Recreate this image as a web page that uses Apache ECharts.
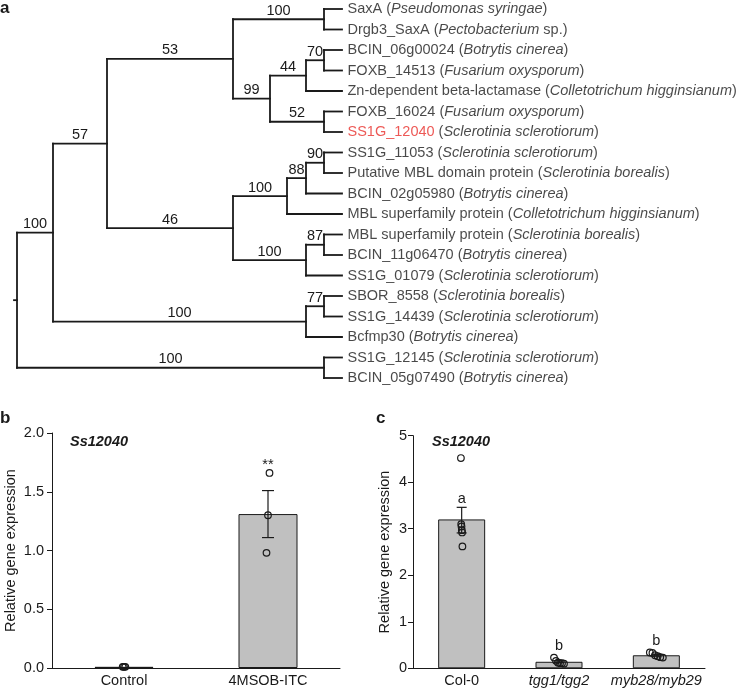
<!DOCTYPE html>
<html><head><meta charset="utf-8">
<script src="https://cdn.jsdelivr.net/npm/echarts@6/dist/echarts.min.js"></script>
<style>html,body{margin:0;padding:0;background:#fff}#c{width:737px;height:690px}</style>
</head><body><div id="c"></div>
<script>
// ---------- Panel a: phylogenetic tree ----------
const leafIds = ['SaxA','Drgb3_SaxA','BCIN_06g00024','FOXB_14513','Zn-dependent beta-lactamase','FOXB_16024','SS1G_12040','SS1G_11053','Putative MBL domain protein','BCIN_02g05980','MBL superfamily protein','MBL superfamily protein','BCIN_11g06470','SS1G_01079','SBOR_8558','SS1G_14439','Bcfmp30','SS1G_12145','BCIN_05g07490'];
const leafSpecies = ['Pseudomonas syringae','Pectobacterium','Botrytis cinerea','Fusarium oxysporum','Colletotrichum higginsianum','Fusarium oxysporum','Sclerotinia sclerotiorum','Sclerotinia sclerotiorum','Sclerotinia borealis','Botrytis cinerea','Colletotrichum higginsianum','Sclerotinia borealis','Botrytis cinerea','Sclerotinia sclerotiorum','Sclerotinia borealis','Sclerotinia sclerotiorum','Botrytis cinerea','Sclerotinia sclerotiorum','Botrytis cinerea'];
const leafSpeciesNote = ['',' sp.','','','','','','','','','','','','','','','','',''];
const highlightLeaf = 'SS1G_12040';
// nodes 0..18 are leaves, 19..36 internal nodes
const nodeParent = [23,23,26,26,25,27,27,31,31,30,29,33,33,32,35,35,34,36,36,
                    -1,19,20,21,22,22,24,25,24,21,28,29,30,28,32,20,34,19];
const nodeDepth  = [325,325,325,325,325,325,325,325,325,325,325,325,325,325,325,325,325,325,325,
                    0,36,90,216,307,253,289,307,307,216,270,289,307,289,307,289,307,307];
const nodeSupport= [null,null,null,null,null,null,null,null,null,null,null,null,null,null,null,null,null,null,null,
                    null,100,57,53,100,99,44,70,52,46,100,88,90,100,87,100,77,100];

// ---------- Panel b ----------
const bCats = ['Control','4MSOB-ITC'];
const bMean = [0.01, 1.31];
const bErrLow = [null, 1.11];
const bErrHigh = [null, 1.51];
const bPoints = [[0.01,0.01,0.01],[1.66,1.30,0.98]];
const bSig = ['', '**'];
const bSigAt = [null, 1.73];

// ---------- Panel c ----------
const cCats = ['Col-0','tgg1/tgg2','myb28/myb29'];
const cMean = [3.20, 0.14, 0.28];
const cErrLow = [2.91, 0.12, 0.26];
const cErrHigh = [3.46, 0.16, 0.30];
const cPoints = [[4.52,3.10,3.05,2.97,2.92,2.62],[0.23,0.16,0.12,0.11,0.11,0.10],[0.34,0.33,0.28,0.26,0.24,0.23]];
const cSig = ['a','b','b'];
const cSigAt = [3.64, 0.48, 0.59];

// ---------- style ----------
const F = '"Liberation Sans", Arial, Helvetica, sans-serif';
const FS = 14.5;
const INK = '#1a1a1a';
const bSpread = [1.3, -1.5];
const cSpread = [0.3, 2.0, 2.6];

// tree geometry derived from data
const nNodes = nodeParent.length;
const children = Array.from({length:nNodes}, () => []);
nodeParent.forEach((p,i) => { if (p >= 0) children[p].push(i); });
const nodeY = new Array(nNodes);
function yOf(i){
  if (nodeY[i] !== undefined) return nodeY[i];
  if (children[i].length === 0) { nodeY[i] = i; return i; }
  const ys = children[i].map(yOf);
  nodeY[i] = (Math.min(...ys) + Math.max(...ys)) / 2;
  return nodeY[i];
}
for (let i = 0; i < nNodes; i++) yOf(i);
const internalIds = [];
for (let i = 0; i < nNodes; i++) if (children[i].length) internalIds.push(i);

const treeLine = {stroke: INK, lineWidth: 1.8, lineCap: 'square'};
function seg(x1,y1,x2,y2){ return {type:'line', shape:{x1,y1,x2,y2}, style: treeLine}; }

function leafLabel(i){
  const id = leafIds[i];
  const head = id === highlightLeaf ? `{r|${id}}` : `{n|${id}}`;
  return `${head}{n| (}{i|${leafSpecies[i]}}{n|${leafSpeciesNote[i]})}`;
}

function errItem(params, api, cap){
  const i = api.value(0);
  const hi = api.coord([i, api.value(2)]);
  const lo = api.coord([i, api.value(1)]);
  const st = {stroke: INK, lineWidth: 1.2};
  return {type:'group', children:[
    {type:'line', shape:{x1:hi[0], y1:hi[1], x2:lo[0], y2:lo[1]}, style:st},
    {type:'line', shape:{x1:hi[0]-cap, y1:hi[1], x2:hi[0]+cap, y2:hi[1]}, style:st},
    {type:'line', shape:{x1:lo[0]-cap, y1:lo[1], x2:lo[0]+cap, y2:lo[1]}, style:st}
  ]};
}
function ptItem(params, api, spread){
  const i = api.value(0), k = api.value(2), n = api.value(3);
  const p = api.coord([i, api.value(1)]);
  const dx = (k - (n-1)/2) * spread[i];
  return {type:'circle', shape:{cx:p[0]+dx, cy:p[1], r:3.3}, style:{fill:'none', stroke:INK, lineWidth:1.2}};
}
function sigItem(params, api, labels){
  const i = api.value(0);
  const p = api.coord([i, api.value(1)]);
  return {type:'text', style:{text:labels[i], x:p[0], y:p[1], align:'center', verticalAlign:'middle', fontSize:FS, fontFamily:F, fill:INK}};
}
const flatPts = arr => arr.flatMap((g,i) => g.map((v,k) => [i, v, k, g.length]));

const chart = echarts.init(document.getElementById('c'), null, {renderer:'canvas'});
const axisLine = {lineStyle:{color:INK, width:1}};
chart.setOption({
  animation: false,
  backgroundColor: '#fff',
  textStyle: {fontFamily: F},
  grid: [
    {left:17, top:9, width:325, height:369},
    {left:52, top:433, width:288, height:235},
    {left:413, top:435.7, width:292, height:232.6}
  ],
  xAxis: [
    {gridIndex:0, type:'value', min:0, max:325, show:false},
    {gridIndex:1, type:'category', data:bCats, axisLine, axisTick:{show:false},
     axisLabel:{color:INK, fontSize:FS, fontFamily:F, margin:5, interval:0}},
    {gridIndex:2, type:'category', data:cCats, axisLine, axisTick:{show:false},
     axisLabel:{color:INK, fontSize:FS, fontFamily:F, margin:5, interval:0, hideOverlap:false,
       formatter: v => v === 'Col-0' ? v : v.split('/').map(s => `{i|${s}}`).join('{i|/}'),
       rich:{i:{fontStyle:'italic', fontSize:FS, fontFamily:F, color:INK}}}}
  ],
  yAxis: [
    {gridIndex:0, type:'value', min:0, max:18, inverse:true, show:false},
    {gridIndex:1, type:'value', min:0, max:2, interval:0.5, axisLine:{show:true, lineStyle:{color:INK}},
     axisTick:{show:true, length:5, lineStyle:{color:INK}}, splitLine:{show:false},
     axisLabel:{color:INK, fontSize:FS, fontFamily:F, margin:8, formatter: v => v.toFixed(1)},
     name:'Relative gene expression', nameLocation:'middle', nameGap:34,
     nameTextStyle:{color:INK, fontSize:FS, fontFamily:F}},
    {gridIndex:2, type:'value', min:0, max:5, interval:1, axisLine:{show:true, lineStyle:{color:INK}},
     axisTick:{show:true, length:5, lineStyle:{color:INK}}, splitLine:{show:false},
     axisLabel:{color:INK, fontSize:FS, fontFamily:F, margin:6},
     name:'Relative gene expression', nameLocation:'middle', nameGap:21,
     nameTextStyle:{color:INK, fontSize:FS, fontFamily:F}}
  ],
  series: [
    {type:'custom', xAxisIndex:0, yAxisIndex:0,
     data: internalIds.map(id => [nodeDepth[id], nodeY[id]]),
     renderItem: (params, api) => {
       const id = internalIds[params.dataIndex];
       const p = api.coord([nodeDepth[id], nodeY[id]]);
       const kids = children[id];
       const kc = kids.map(k => api.coord([nodeDepth[k], nodeY[k]]));
       const ys = kc.map(c => c[1]);
       const els = [seg(p[0], Math.min(...ys), p[0], Math.max(...ys))];
       kc.forEach((c, j) => {
         els.push(seg(p[0], c[1], c[0], c[1]));
         const s = nodeSupport[kids[j]];
         if (s != null) els.push({type:'text', style:{text:String(s), x:(p[0]+c[0])/2, y:c[1]-1,
           align:'center', verticalAlign:'bottom', fontSize:FS, fontFamily:F, fill:INK}});
       });
       if (nodeParent[id] < 0) els.push(seg(p[0]-3, p[1], p[0], p[1]));
       return {type:'group', children: els};
     }},
    {type:'scatter', xAxisIndex:0, yAxisIndex:0, symbolSize:1, itemStyle:{color:'rgba(0,0,0,0)'},
     data: leafIds.map((_, i) => [nodeDepth[i], nodeY[i]]),
     label:{show:true, position:'right', distance:5, formatter: p => leafLabel(p.dataIndex),
       rich:{
         n:{fontSize:FS, fontFamily:F, color:INK},
         i:{fontSize:FS, fontFamily:F, color:INK, fontStyle:'italic'},
         r:{fontSize:FS, fontFamily:F, color:'#e8302c'}
       }}},
    // panel b
    {type:'bar', xAxisIndex:1, yAxisIndex:1, data:bMean, barWidth:59,
     itemStyle:{color:'#c0c0c0', borderColor:INK, borderWidth:1}},
    {type:'custom', xAxisIndex:1, yAxisIndex:1,
     data: bMean.map((_, i) => [i, bErrLow[i], bErrHigh[i]]).filter(d => d[1] != null),
     renderItem:(p, a) => errItem(p, a, 6), z:3},
    {type:'custom', xAxisIndex:1, yAxisIndex:1, data: flatPts(bPoints),
     renderItem:(p, a) => ptItem(p, a, bSpread), z:4},
    {type:'custom', xAxisIndex:1, yAxisIndex:1,
     data: bSig.map((s, i) => [i, bSigAt[i]]).filter(d => d[1] != null),
     renderItem:(p, a) => sigItem(p, a, bSig), z:4},
    // panel c
    {type:'bar', xAxisIndex:2, yAxisIndex:2, data:cMean, barWidth:47,
     itemStyle:{color:'#c0c0c0', borderColor:INK, borderWidth:1}},
    {type:'custom', xAxisIndex:2, yAxisIndex:2,
     data: cMean.map((_, i) => [i, cErrLow[i], cErrHigh[i]]),
     renderItem:(p, a) => errItem(p, a, 5), z:3},
    {type:'custom', xAxisIndex:2, yAxisIndex:2, data: flatPts(cPoints),
     renderItem:(p, a) => ptItem(p, a, cSpread), z:4},
    {type:'custom', xAxisIndex:2, yAxisIndex:2,
     data: cSig.map((s, i) => [i, cSigAt[i]]),
     renderItem:(p, a) => sigItem(p, a, cSig), z:4}
  ],
  graphic: [
    {type:'text', left:0, top:0, style:{text:'a', fontSize:17, fontWeight:'bold', fontFamily:F, fill:INK}},
    {type:'text', left:0, top:410, style:{text:'b', fontSize:17, fontWeight:'bold', fontFamily:F, fill:INK}},
    {type:'text', left:376, top:410, style:{text:'c', fontSize:17, fontWeight:'bold', fontFamily:F, fill:INK}},
    {type:'text', left:70, top:434, style:{text:'Ss12040', fontSize:FS, fontWeight:'bold', fontStyle:'italic', fontFamily:F, fill:INK}},
    {type:'text', left:432, top:434, style:{text:'Ss12040', fontSize:FS, fontWeight:'bold', fontStyle:'italic', fontFamily:F, fill:INK}}
  ]
});
</script>
</body></html>
